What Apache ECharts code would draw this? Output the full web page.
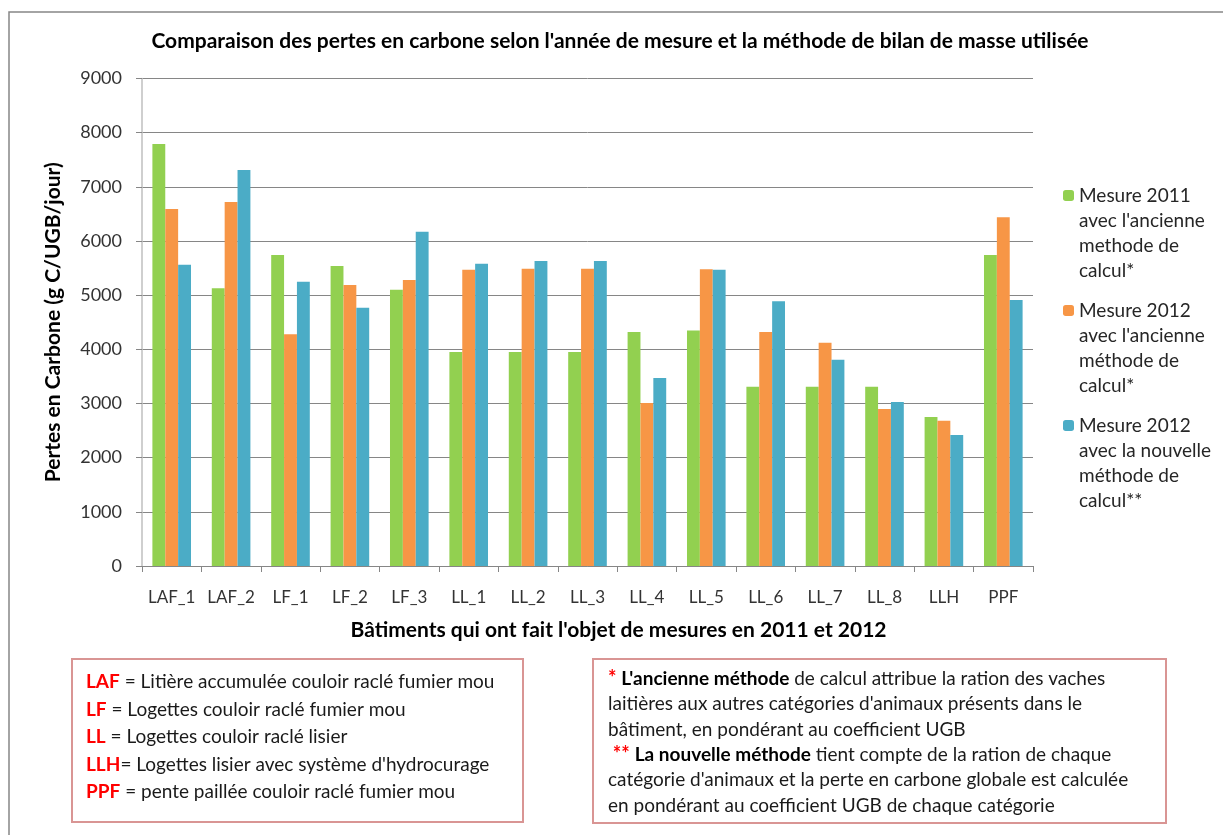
<!DOCTYPE html>
<html>
<head>
<meta charset="utf-8">
<script src="https://cdn.jsdelivr.net/npm/echarts@6/dist/echarts.min.js"></script>
<style>
  html, body { margin: 0; padding: 0; background: #fff; }
  #chart { width: 1223px; height: 835px; }
</style>
</head>
<body>
<div id="chart"></div>
<script>
// batiments mesures
const categories = ['LAF_1', 'LAF_2', 'LF_1', 'LF_2', 'LF_3', 'LL_1', 'LL_2', 'LL_3', 'LL_4', 'LL_5', 'LL_6', 'LL_7', 'LL_8', 'LLH', 'PPF']

const mesure2011 = [7790, 5130, 5740, 5540, 5100, 3950, 3950, 3950, 4320, 4350, 3310, 3310, 3310, 2750, 5740]
const mesure2012Ancienne = [6590, 6720, 4280, 5190, 5280, 5470, 5490, 5490, 3010, 5480, 4320, 4120, 2900, 2680, 6440]
const mesure2012Nouvelle = [5560, 7310, 5250, 4770, 6170, 5580, 5630, 5630, 3470, 5470, 4890, 3810, 3030, 2420, 4910]

const seriesNames = [
  'Mesure 2011\navec l\'ancienne\nmethode de\ncalcul*',
  'Mesure 2012\navec l\'ancienne\nméthode de\ncalcul*',
  'Mesure 2012\navec la nouvelle\nméthode de\ncalcul**'
]
const colors = ['#92D050', '#F79646', '#4BACC6']

// textes des encadres
const abbrevs = [
  ['LAF', ' = Litière accumulée couloir raclé fumier mou'],
  ['LF', ' = Logettes couloir raclé fumier mou'],
  ['LL', ' = Logettes couloir raclé lisier'],
  ['LLH', '= Logettes lisier avec système d\'hydrocurage'],
  ['PPF', ' = pente paillée couloir raclé fumier mou']
]
const noteLines = [
  '{r|*} {b|L\'ancienne méthode} de calcul attribue la ration des vaches',
  'laitières aux autres catégories d\'animaux présents dans le',
  'bâtiment, en pondérant au coefficient UGB',
  ' {r|**} {b|La nouvelle méthode} tient compte de la ration de chaque',
  'catégorie d\'animaux et la perte en carbone globale est calculée',
  'en pondérant au coefficient UGB de chaque catégorie'
]

const font = 'Lato, "Open Sans", sans-serif'
const chart = echarts.init(document.getElementById('chart'))

const seriesData = [mesure2011, mesure2012Ancienne, mesure2012Nouvelle]
let series = []
for (let i = 0; i < seriesNames.length; i++) {
  series.push({
    name: seriesNames[i],
    type: 'bar',
    data: seriesData[i],
    barGap: 0,
    barCategoryGap: '35%',
    itemStyle: { color: colors[i] }
  })
}

chart.setOption({
  animation: false,
  textStyle: { fontFamily: font },
  title: {
    text: 'Comparaison des pertes en carbone selon l\'année de mesure et la méthode de bilan de masse utilisée',
    left: 620,
    textAlign: 'center',
    top: 31,
    padding: 0,
    textStyle: { fontSize: 21, fontWeight: 'bold', color: '#000', fontFamily: font }
  },
  legend: {
    orient: 'vertical',
    left: 1063,
    top: 108,
    padding: 0,
    itemGap: -60,
    itemWidth: 11,
    itemHeight: 11,
    data: seriesNames,
    textStyle: {
      fontSize: 19,
      color: '#262626',
      lineHeight: 25,
      padding: [75, 0, 0, 0],
      fontFamily: font,
      // rich forces the padding to be honoured
      rich: { n: {} }
    }
  },
  grid: {
    left: 142,
    right: 190,
    top: 78.5,
    bottom: 269
  },
  xAxis: {
    type: 'category',
    data: categories,
    name: 'Bâtiments qui ont fait l\'objet de mesures en 2011 et 2012',
    nameLocation: 'middle',
    nameGap: 54,
    nameTextStyle: { fontSize: 21, fontWeight: 'bold', color: '#000', padding: [0, 0, 0, 62] },
    axisLine: { lineStyle: { color: '#868686', width: 1 } },
    axisTick: { show: true, interval: 0, length: 6, lineStyle: { color: '#868686' } },
    axisLabel: { interval: 0, fontSize: 17, color: '#333', margin: 23 }
  },
  yAxis: {
    type: 'value',
    min: 0,
    max: 9000,
    interval: 1000,
    name: 'Pertes en Carbone (g C/UGB/jour)',
    nameLocation: 'middle',
    nameGap: 78,
    nameTextStyle: { fontSize: 21, fontWeight: 'bold', color: '#000' },
    axisLine: { show: true, lineStyle: { color: '#BFBFBF', width: 1.5 } },
    axisTick: { show: true, length: 6, lineStyle: { color: '#868686' } },
    axisLabel: { fontSize: 18, color: '#333', margin: 20, formatter: v => String(v) },
    splitLine: { lineStyle: { color: '#868686', width: 1 } }
  },
  series: series,
  graphic: [
    {
      type: 'rect',
      silent: true,
      shape: { x: 9, y: 12, width: 1300, height: 900 },
      style: { fill: 'none', stroke: '#868686', lineWidth: 1.5 },
      z: -1
    },
    {
      type: 'rect',
      shape: { x: 72, y: 659, width: 451, height: 163 },
      style: { fill: '#fff', stroke: '#D99594', lineWidth: 2 }
    },
    {
      type: 'text',
      left: 86,
      top: 668,
      style: {
        text: abbrevs.map(a => '{r|' + a[0] + '}' + a[1]).join('\n'),
        fontSize: 19,
        lineHeight: 27.6,
        fill: '#1a1a1a',
        fontFamily: font,
        rich: {
          r: { fontSize: 19, fontWeight: 'bold', fill: '#FF0000', lineHeight: 27.6, fontFamily: font }
        }
      }
    },
    {
      type: 'rect',
      shape: { x: 593, y: 659, width: 573, height: 164 },
      style: { fill: '#fff', stroke: '#D99594', lineWidth: 2 }
    },
    {
      type: 'text',
      left: 608,
      top: 666,
      style: {
        text: noteLines.join('\n'),
        fontSize: 19,
        lineHeight: 25.4,
        fill: '#1a1a1a',
        fontFamily: font,
        rich: {
          r: { fontSize: 20, fontWeight: 'bold', fill: '#FF0000', lineHeight: 25.4, fontFamily: font },
          b: { fontSize: 19, fontWeight: 'bold', fill: '#000', lineHeight: 25.4, fontFamily: font }
        }
      }
    }
  ]
})
</script>
</body>
</html>
